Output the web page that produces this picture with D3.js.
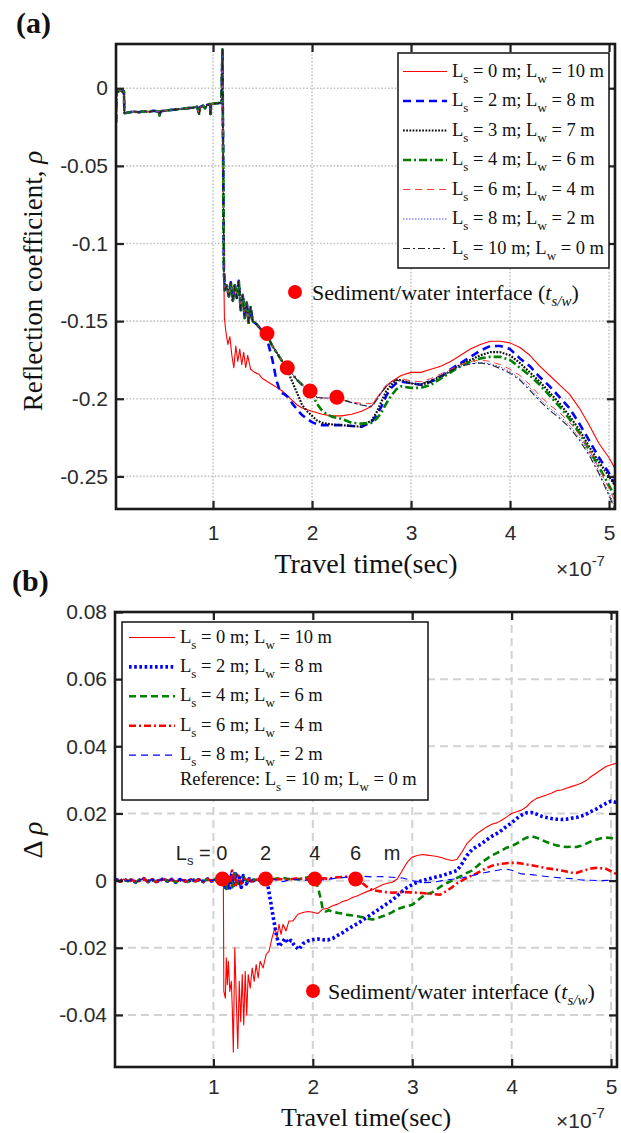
<!DOCTYPE html>
<html><head><meta charset="utf-8">
<script src="https://cdn.jsdelivr.net/npm/d3@7"></script>
<style>body{margin:0;background:#fff}svg{display:block}</style>
</head><body><svg id="c" width="621" height="1133"></svg>
<script>
// ---------------- DATA ----------------
const xTicks = [1, 2, 3, 4, 5];
const xTickLabels = ["1", "2", "3", "4", "5"];
const yTicksA = [0, -0.05, -0.1, -0.15, -0.2, -0.25];
const yTickLabelsA = ["0", "-0.05", "-0.1", "-0.15", "-0.2", "-0.25"];
const yTicksB = [0.08, 0.06, 0.04, 0.02, 0, -0.02, -0.04];
const yTickLabelsB = ["0.08", "0.06", "0.04", "0.02", "0", "-0.02", "-0.04"];
const xDomainA = [0.02, 5.06], yDomainA = [-0.271, 0.0285];
const xDomainB = [0.01, 5.06], yDomainB = [-0.0555, 0.08];

// legend texts [Ls, Lw]
const legendA = [[0, 10], [2, 8], [3, 7], [4, 6], [6, 4], [8, 2], [10, 0]];
const legendB = [[0, 10], [2, 8], [4, 6], [6, 4], [8, 2]];
const referenceB = [10, 0];

// (a) reflection coefficient: shared early part (t in 1e-7 s)
const rhoEarly = [[0.02,-0.022],[0.024,-0.001],[0.03,-0.0025],[0.05,-0.002],[0.07,-0.0015],[0.09,-0.0025],[0.10,-0.002],[0.105,-0.016],[0.13,-0.0158],[0.2,-0.015],[0.25,-0.0155],[0.3,-0.0148],[0.35,-0.0152],[0.4,-0.0145],[0.45,-0.015],[0.46,-0.0175],[0.47,-0.0148],[0.55,-0.0142],[0.6,-0.0138],[0.65,-0.0135],[0.7,-0.0132],[0.75,-0.0128],[0.8,-0.0125],[0.84,-0.012],[0.86,-0.0165],[0.87,-0.012],[0.9,-0.0112],[0.92,-0.013],[0.94,-0.0108],[0.97,-0.0102],[0.975,-0.0165],[0.98,-0.0102],[1.02,-0.0098],[1.06,-0.0095],[1.085,-0.0095],[1.095,0.025]];
// sediment-filled response (Ls = 10 m), shared by others until their interface
const rhoSediment = [[1.11,-0.118],[1.12,-0.130],[1.14,-0.127],[1.16,-0.134],[1.18,-0.125],[1.20,-0.137],[1.22,-0.127],[1.24,-0.135],[1.26,-0.124],[1.28,-0.143],[1.30,-0.133],[1.32,-0.148],[1.34,-0.138],[1.36,-0.151],[1.38,-0.141],[1.40,-0.150],[1.44,-0.152],[1.48,-0.155],[1.52,-0.157],[1.56,-0.161],[1.60,-0.166],[1.65,-0.171],[1.70,-0.176],[1.75,-0.180],[1.80,-0.184],[1.85,-0.188],[1.90,-0.191],[1.95,-0.194],[2.00,-0.197],[2.05,-0.199],[2.10,-0.1995],[2.20,-0.1995],[2.30,-0.2005],[2.40,-0.2025],[2.50,-0.204],[2.58,-0.205],[2.62,-0.204],[2.66,-0.200],[2.70,-0.196],[2.75,-0.192],[2.80,-0.1895],[2.85,-0.188],[2.90,-0.1885],[3.00,-0.190],[3.10,-0.1905],[3.20,-0.188],[3.30,-0.185],[3.40,-0.182],[3.50,-0.179],[3.60,-0.1775],[3.70,-0.177],[3.80,-0.178],[3.90,-0.1805],[4.00,-0.1835],[4.10,-0.188],[4.20,-0.1945],[4.30,-0.2015],[4.40,-0.2075],[4.50,-0.2125],[4.60,-0.2185],[4.70,-0.2265],[4.80,-0.2365],[4.90,-0.2485],[5.00,-0.2625],[5.06,-0.271]];
// time at which each case leaves the sediment curve
const splitA = [1.105, 1.55, 1.76, 2.01, 2.26, 3.65, 99];
const rhoTail0 = [[1.11,-0.125],[1.115,-0.148],[1.13,-0.157],[1.15,-0.165],[1.17,-0.160],[1.19,-0.172],[1.21,-0.180],[1.23,-0.166],[1.25,-0.176],[1.27,-0.168],[1.29,-0.178],[1.31,-0.170],[1.33,-0.180],[1.35,-0.172],[1.38,-0.181],[1.42,-0.183],[1.46,-0.184],[1.50,-0.187],[1.55,-0.189],[1.60,-0.191],[1.65,-0.193],[1.70,-0.195],[1.75,-0.198],[1.80,-0.201],[1.85,-0.204],[1.90,-0.206],[2.00,-0.208],[2.10,-0.210],[2.20,-0.211],[2.30,-0.211],[2.40,-0.210],[2.50,-0.208],[2.60,-0.205],[2.65,-0.200],[2.70,-0.196],[2.75,-0.192],[2.80,-0.189],[2.90,-0.185],[3.00,-0.183],[3.10,-0.183],[3.20,-0.181],[3.30,-0.179],[3.40,-0.176],[3.50,-0.172],[3.60,-0.168],[3.70,-0.165],[3.80,-0.163],[3.90,-0.163],[4.00,-0.164],[4.10,-0.167],[4.20,-0.172],[4.30,-0.179],[4.40,-0.185],[4.50,-0.191],[4.60,-0.197],[4.70,-0.206],[4.80,-0.217],[4.90,-0.229],[5.00,-0.238],[5.06,-0.245]];
const rhoTail2 = [[1.56,-0.165],[1.60,-0.175],[1.64,-0.188],[1.68,-0.196],[1.72,-0.197],[1.76,-0.199],[1.80,-0.203],[1.85,-0.207],[1.90,-0.2105],[1.95,-0.213],[2.00,-0.215],[2.05,-0.2165],[2.10,-0.217],[2.20,-0.217],[2.30,-0.217],[2.40,-0.2175],[2.50,-0.218],[2.60,-0.215],[2.65,-0.211],[2.70,-0.205],[2.75,-0.198],[2.80,-0.193],[2.85,-0.190],[2.90,-0.189],[3.00,-0.190],[3.10,-0.191],[3.20,-0.189],[3.30,-0.186],[3.40,-0.181],[3.50,-0.177],[3.60,-0.173],[3.70,-0.169],[3.80,-0.166],[3.90,-0.166],[4.00,-0.168],[4.10,-0.174],[4.20,-0.179],[4.30,-0.186],[4.40,-0.192],[4.50,-0.199],[4.60,-0.206],[4.70,-0.216],[4.80,-0.227],[4.90,-0.238],[5.00,-0.248],[5.06,-0.255]];
const rhoTail3 = [[1.78,-0.186],[1.82,-0.192],[1.86,-0.198],[1.90,-0.204],[1.95,-0.208],[2.00,-0.211],[2.05,-0.214],[2.10,-0.2155],[2.20,-0.2165],[2.30,-0.217],[2.40,-0.2175],[2.50,-0.218],[2.60,-0.214],[2.65,-0.209],[2.70,-0.202],[2.75,-0.195],[2.80,-0.191],[2.85,-0.188],[2.90,-0.188],[3.00,-0.190],[3.10,-0.191],[3.20,-0.189],[3.30,-0.186],[3.40,-0.182],[3.50,-0.178],[3.60,-0.175],[3.70,-0.172],[3.80,-0.170],[3.90,-0.170],[4.00,-0.172],[4.10,-0.177],[4.20,-0.183],[4.30,-0.189],[4.40,-0.196],[4.50,-0.203],[4.60,-0.211],[4.70,-0.220],[4.80,-0.231],[4.90,-0.241],[5.00,-0.250],[5.06,-0.256]];
const rhoTail4 = [[2.04,-0.202],[2.07,-0.205],[2.10,-0.2075],[2.15,-0.210],[2.20,-0.2115],[2.30,-0.213],[2.40,-0.2155],[2.50,-0.216],[2.60,-0.2155],[2.65,-0.213],[2.70,-0.209],[2.75,-0.203],[2.80,-0.198],[2.85,-0.194],[2.90,-0.192],[3.00,-0.193],[3.10,-0.193],[3.20,-0.191],[3.30,-0.187],[3.40,-0.183],[3.50,-0.179],[3.60,-0.176],[3.70,-0.174],[3.80,-0.173],[3.90,-0.173],[4.00,-0.175],[4.10,-0.180],[4.20,-0.185],[4.30,-0.191],[4.40,-0.198],[4.50,-0.205],[4.60,-0.213],[4.70,-0.222],[4.80,-0.233],[4.90,-0.244],[5.00,-0.256],[5.06,-0.263]];
const rhoTail6 = [[2.30,-0.2005],[2.40,-0.202],[2.50,-0.203],[2.60,-0.203],[2.65,-0.200],[2.70,-0.195],[2.75,-0.191],[2.80,-0.189],[2.85,-0.187],[2.90,-0.187],[3.00,-0.1885],[3.10,-0.189],[3.20,-0.187],[3.30,-0.184],[3.40,-0.181],[3.50,-0.178],[3.60,-0.176],[3.70,-0.175],[3.80,-0.176],[3.90,-0.178],[4.00,-0.181],[4.10,-0.185],[4.20,-0.191],[4.30,-0.198],[4.40,-0.204],[4.50,-0.209],[4.60,-0.215],[4.70,-0.223],[4.80,-0.233],[4.90,-0.245],[5.00,-0.258],[5.06,-0.266]];
const rhoTail8 = [[3.70,-0.1765],[3.80,-0.1775],[3.90,-0.1795],[4.00,-0.1825],[4.10,-0.187],[4.20,-0.193],[4.30,-0.200],[4.40,-0.206],[4.50,-0.211],[4.60,-0.217],[4.70,-0.225],[4.80,-0.235],[4.90,-0.247],[5.00,-0.261],[5.06,-0.269]];
const rhoTail10 = [];
const interfaceA = [[1.545,-0.158],[1.75,-0.180],[1.98,-0.195],[2.25,-0.199]];

// (b) difference from reference (Ls = 10 m)
const dBase = [[0.02,0.0004],[0.06,-0.0003],[0.1,0.0005],[0.14,-0.0002],[0.18,0.0003],[0.22,-0.0005],[0.26,0.0002],[0.3,0.0006],[0.34,-0.0003],[0.38,0.0004],[0.42,-0.0004],[0.46,0.0002],[0.5,0.0005],[0.54,-0.0002],[0.58,0.0004],[0.62,-0.0005],[0.66,0.0003],[0.7,0.0001],[0.74,-0.0004],[0.78,0.0005],[0.82,-0.0002],[0.86,0.0004],[0.9,-0.0003],[0.94,0.0005],[0.98,-0.0001],[1.02,0.0004],[1.06,-0.0002],[1.09,0.0003]];
const dTail0 = [[1.10,0.0],[1.105,-0.033],[1.12,-0.035],[1.13,-0.023],[1.14,-0.031],[1.15,-0.024],[1.165,-0.033],[1.18,-0.030],[1.19,-0.038],[1.20,-0.051],[1.215,-0.020],[1.23,-0.035],[1.245,-0.050],[1.26,-0.030],[1.275,-0.042],[1.29,-0.028],[1.305,-0.043],[1.32,-0.027],[1.335,-0.040],[1.35,-0.028],[1.37,-0.032],[1.39,-0.026],[1.41,-0.030],[1.43,-0.025],[1.45,-0.029],[1.47,-0.024],[1.50,-0.026],[1.53,-0.022],[1.56,-0.021],[1.59,-0.017],[1.62,-0.014],[1.64,-0.017],[1.66,-0.013],[1.68,-0.016],[1.70,-0.013],[1.73,-0.015],[1.76,-0.012],[1.80,-0.012],[1.85,-0.010],[1.90,-0.0095],[1.95,-0.0092],[2.00,-0.0094],[2.05,-0.0098],[2.10,-0.0085],[2.15,-0.0082],[2.20,-0.0075],[2.25,-0.0070],[2.30,-0.0062],[2.35,-0.0058],[2.40,-0.0050],[2.45,-0.0045],[2.50,-0.0038],[2.55,-0.0032],[2.60,-0.0027],[2.65,-0.0020],[2.70,-0.0012],[2.75,-0.0008],[2.80,-0.0005],[2.85,0.0005],[2.90,0.0030],[2.95,0.0055],[3.00,0.0070],[3.05,0.0075],[3.10,0.0078],[3.15,0.0076],[3.20,0.0074],[3.25,0.0072],[3.30,0.0068],[3.35,0.0063],[3.40,0.0060],[3.45,0.0063],[3.50,0.0085],[3.55,0.0110],[3.60,0.0125],[3.65,0.0140],[3.70,0.0150],[3.75,0.0160],[3.80,0.0168],[3.85,0.0172],[3.90,0.0180],[3.95,0.0190],[4.00,0.0200],[4.05,0.0205],[4.10,0.0210],[4.15,0.0220],[4.20,0.0235],[4.25,0.0245],[4.30,0.0250],[4.35,0.0255],[4.40,0.0260],[4.45,0.0268],[4.50,0.0270],[4.55,0.0275],[4.60,0.0280],[4.65,0.0285],[4.70,0.0290],[4.75,0.0298],[4.80,0.0310],[4.85,0.0320],[4.90,0.0330],[4.95,0.0340],[5.00,0.0345],[5.06,0.0350]];
const dTail2 = [[1.10,0.0],[1.12,-0.002],[1.14,0.001],[1.16,-0.003],[1.18,0.002],[1.20,-0.002],[1.22,0.0025],[1.24,-0.001],[1.26,0.001],[1.28,-0.002],[1.30,0.0015],[1.33,-0.001],[1.36,0.0005],[1.40,0.0],[1.45,0.0003],[1.50,-0.0002],[1.54,0.0],[1.56,-0.0036],[1.58,-0.007],[1.60,-0.0106],[1.63,-0.0156],[1.66,-0.0196],[1.69,-0.0185],[1.72,-0.0172],[1.75,-0.0185],[1.78,-0.0178],[1.82,-0.0195],[1.86,-0.0205],[1.90,-0.0188],[1.95,-0.018],[2.00,-0.0176],[2.05,-0.0174],[2.10,-0.0176],[2.15,-0.0177],[2.20,-0.0172],[2.25,-0.0163],[2.30,-0.0155],[2.35,-0.0145],[2.40,-0.0136],[2.45,-0.0128],[2.50,-0.0118],[2.55,-0.0108],[2.60,-0.0098],[2.65,-0.0088],[2.70,-0.0078],[2.75,-0.0068],[2.80,-0.0058],[2.85,-0.0045],[2.90,-0.0032],[2.95,-0.002],[3.00,-0.0012],[3.05,-0.0005],[3.10,0.0],[3.20,0.0008],[3.30,0.0015],[3.40,0.0025],[3.45,0.003],[3.50,0.005],[3.55,0.0075],[3.60,0.0092],[3.65,0.0102],[3.70,0.011],[3.75,0.0122],[3.80,0.0132],[3.85,0.014],[3.90,0.015],[3.95,0.0162],[4.00,0.0172],[4.05,0.0185],[4.10,0.0195],[4.15,0.0202],[4.20,0.0203],[4.25,0.0198],[4.30,0.0192],[4.35,0.0188],[4.40,0.0185],[4.45,0.0183],[4.50,0.0182],[4.55,0.0183],[4.60,0.0186],[4.65,0.0188],[4.70,0.0192],[4.75,0.0198],[4.80,0.0206],[4.85,0.0213],[4.90,0.0222],[4.95,0.023],[5.00,0.0237],[5.06,0.0232]];
const dTail4 = [[1.10,0.0],[1.13,-0.0025],[1.16,0.001],[1.19,-0.002],[1.22,0.002],[1.25,-0.001],[1.30,0.001],[1.35,-0.0005],[1.40,0.0003],[1.50,0.0],[1.60,0.0005],[1.70,0.0008],[1.80,0.0003],[1.90,0.0006],[1.95,0.001],[2.00,0.0005],[2.03,0.0],[2.06,-0.003],[2.08,-0.0055],[2.10,-0.0085],[2.13,-0.0092],[2.16,-0.0088],[2.20,-0.0093],[2.25,-0.0096],[2.30,-0.0098],[2.35,-0.0102],[2.40,-0.0104],[2.45,-0.0106],[2.50,-0.0109],[2.55,-0.0113],[2.60,-0.0116],[2.65,-0.0112],[2.70,-0.0106],[2.75,-0.0101],[2.80,-0.0094],[2.85,-0.0085],[2.90,-0.008],[2.95,-0.0076],[3.00,-0.0072],[3.05,-0.006],[3.10,-0.0048],[3.15,-0.004],[3.20,-0.0035],[3.25,-0.0025],[3.30,-0.0015],[3.35,-0.0007],[3.40,0.0],[3.45,0.0008],[3.50,0.0015],[3.55,0.0023],[3.60,0.003],[3.65,0.0042],[3.70,0.0055],[3.75,0.0065],[3.80,0.0075],[3.85,0.0082],[3.90,0.009],[3.95,0.0098],[4.00,0.0103],[4.05,0.011],[4.10,0.012],[4.15,0.0128],[4.20,0.0132],[4.25,0.0128],[4.30,0.0122],[4.35,0.0115],[4.40,0.011],[4.45,0.0105],[4.50,0.0102],[4.55,0.01],[4.60,0.0101],[4.65,0.01],[4.70,0.0104],[4.75,0.011],[4.80,0.0117],[4.85,0.0122],[4.90,0.0126],[4.95,0.0128],[5.00,0.0127],[5.06,0.0122]];
const dTail6 = [[1.10,0.0],[1.13,0.0025],[1.16,-0.0015],[1.19,0.003],[1.22,-0.002],[1.25,0.0015],[1.28,-0.001],[1.32,0.001],[1.38,-0.0003],[1.45,0.0004],[1.55,0.0],[1.65,0.0005],[1.75,0.0003],[1.85,0.0007],[1.95,0.0004],[2.05,0.0008],[2.15,0.0006],[2.25,0.001],[2.35,0.0012],[2.43,0.0012],[2.47,0.0005],[2.50,-0.0008],[2.55,-0.002],[2.60,-0.0028],[2.70,-0.0033],[2.80,-0.0036],[2.90,-0.0034],[3.00,-0.0035],[3.10,-0.0037],[3.20,-0.004],[3.28,-0.0042],[3.35,-0.003],[3.40,-0.002],[3.45,-0.0008],[3.50,0.0],[3.55,0.0008],[3.60,0.0015],[3.65,0.0022],[3.70,0.003],[3.75,0.0038],[3.80,0.0044],[3.85,0.0048],[3.90,0.005],[3.95,0.0052],[4.00,0.0053],[4.05,0.0053],[4.10,0.0051],[4.15,0.0048],[4.20,0.0046],[4.25,0.0043],[4.30,0.004],[4.35,0.0037],[4.40,0.0035],[4.45,0.0033],[4.50,0.003],[4.55,0.0027],[4.60,0.0024],[4.65,0.0023],[4.70,0.0028],[4.75,0.0032],[4.80,0.0036],[4.85,0.0038],[4.90,0.0037],[4.95,0.0035],[5.00,0.0028],[5.06,0.0018]];
const dTail8 = [[1.10,0.0],[1.13,0.002],[1.15,-0.002],[1.18,0.003],[1.21,-0.001],[1.24,0.002],[1.27,-0.002],[1.30,0.001],[1.35,-0.0005],[1.40,0.0004],[1.50,-0.0002],[1.60,0.0004],[1.70,-0.0003],[1.80,0.0005],[1.90,0.0],[2.00,0.0004],[2.10,0.0002],[2.20,0.0006],[2.30,0.0009],[2.40,0.0012],[2.50,0.0013],[2.60,0.0011],[2.70,0.0012],[2.80,0.001],[2.90,0.0008],[3.00,0.0],[3.10,-0.0006],[3.20,-0.0005],[3.30,0.0],[3.40,0.0004],[3.50,0.0008],[3.60,0.0015],[3.70,0.0022],[3.80,0.0028],[3.90,0.0033],[3.95,0.0034],[4.00,0.0031],[4.10,0.002],[4.20,0.0018],[4.30,0.0014],[4.40,0.0011],[4.50,0.0008],[4.60,0.0006],[4.70,0.0002],[4.80,0.0001],[4.90,0.0],[5.00,0.0001],[5.06,-0.0001]];
const interfaceB = [[1.09,0.0005],[1.525,0.0005],[2.02,0.0005],[2.43,0.0005]];
const interfaceLabelsB = ["0", "2", "4", "6"];

// ---------------- DRAW ----------------
const svg = d3.select('#c');
svg.append('rect').attr('width', 621).attr('height', 1133).attr('fill', '#fff');
const serif = "'Liberation Serif','Times New Roman',serif";
const sans = "'Liberation Sans',Arial,Helvetica,sans-serif";
const RED = '#ff0000', BLUE = '#0000ff', GREEN = '#008000', BLACK = '#111';

function panel(opt) {
  const x = d3.scaleLinear().domain(opt.xd).range([opt.l, opt.r]);
  const y = d3.scaleLinear().domain(opt.yd).range([opt.b, opt.t]);
  const g = svg.append('g');
  const grid = g.append('g').attr('stroke', opt.gridColor).attr('stroke-width', opt.gridW)
    .attr('stroke-dasharray', opt.gridDash).attr('fill', 'none');
  grid.selectAll('.gx').data(xTicks).join('line')
    .attr('x1', d => x(d)).attr('x2', d => x(d)).attr('y1', opt.t).attr('y2', opt.b);
  grid.selectAll('.gy').data(opt.yt).join('line')
    .attr('y1', d => y(d)).attr('y2', d => y(d)).attr('x1', opt.l).attr('x2', opt.r);
  const cid = 'clip' + opt.id;
  svg.append('clipPath').attr('id', cid).append('rect')
    .attr('x', opt.l).attr('y', opt.t).attr('width', opt.r - opt.l).attr('height', opt.b - opt.t);
  const plot = g.append('g').attr('clip-path', `url(#${cid})`);
  const style = sel => {
    sel.select('.domain').remove();
    sel.selectAll('.tick line').attr('stroke', '#222').attr('stroke-width', 2.2);
    sel.selectAll('.tick text').attr('font-family', sans).attr('font-size', 21).attr('fill', '#2b2b2b');
  };
  g.append('g').attr('transform', `translate(0,${opt.b})`)
    .call(d3.axisBottom(x).tickValues(xTicks).tickSizeInner(-8).tickSizeOuter(0).tickPadding(opt.xpad)
      .tickFormat((d, i) => xTickLabels[i])).call(style);
  g.append('g').attr('transform', `translate(0,${opt.t})`)
    .call(d3.axisTop(x).tickValues(xTicks).tickSizeInner(-8).tickSizeOuter(0).tickFormat('')).call(style);
  g.append('g').attr('transform', `translate(${opt.l},0)`)
    .call(d3.axisLeft(y).tickValues(opt.yt).tickSizeInner(-8).tickSizeOuter(0).tickPadding(8)
      .tickFormat((d, i) => opt.ytl[i])).call(style);
  g.append('g').attr('transform', `translate(${opt.r},0)`)
    .call(d3.axisRight(y).tickValues(opt.yt).tickSizeInner(-8).tickSizeOuter(0).tickFormat('')).call(style);
  return { x, y, g, plot };
}

function lineTo(plot, x, y, pts, s) {
  plot.append('path').datum(pts)
    .attr('d', d3.line().x(d => x(d[0])).y(d => y(d[1])))
    .attr('fill', 'none').attr('stroke', s.c).attr('stroke-width', s.w)
    .attr('stroke-dasharray', s.dash || null).attr('stroke-linejoin', 'round');
}

function lsText(sel, x, y, ls, lw, size, prefix) {
  const t = sel.append('text').attr('x', x).attr('y', y).attr('font-family', serif)
    .attr('font-size', size).attr('fill', '#111');
  const sub = Math.round(size * 0.68), sh = size * 0.33;
  if (prefix) t.append('tspan').text(prefix);
  t.append('tspan').text('L');
  t.append('tspan').attr('dy', sh).attr('font-size', sub).text('s');
  t.append('tspan').attr('dy', -sh).text(` = ${ls} m; L`);
  t.append('tspan').attr('dy', sh).attr('font-size', sub).text('w');
  t.append('tspan').attr('dy', -sh).text(` = ${lw} m`);
}

function interfaceLabel(x, y, size) {
  const t = svg.append('text').attr('x', x).attr('y', y).attr('font-family', serif)
    .attr('font-size', size).attr('fill', '#111');
  t.append('tspan').text('Sediment/water interface (');
  t.append('tspan').attr('font-style', 'italic').text('t');
  t.append('tspan').attr('font-style', 'italic').attr('font-size', size * 0.68).attr('dy', size * 0.25).text('s/w');
  t.append('tspan').attr('dy', -size * 0.25).text(')');
}

// ---------- Panel (a) ----------
const A = panel({ id: 'a', xd: xDomainA, yd: yDomainA, l: 116, r: 615, t: 44, b: 509, xpad: 16,
  yt: yTicksA, ytl: yTickLabelsA, gridColor: '#c4c4c4', gridW: 1.6, gridDash: '1.6,1.8' });

const stylesA = [
  { c: RED, w: 1.1 },
  { c: BLUE, w: 2.6, dash: '8,5' },
  { c: BLACK, w: 2.2, dash: '1.8,1.4' },
  { c: GREEN, w: 2.6, dash: '8,3,2,3' },
  { c: '#ff3c3c', w: 1, dash: '7,5' },
  { c: '#4a4aff', w: 1, dash: '1.5,1.5' },
  { c: '#222', w: 1.1, dash: '7,3,2,3' }
];
const tailsA = [rhoTail0, rhoTail2, rhoTail3, rhoTail4, rhoTail6, rhoTail8, rhoTail10];
tailsA.forEach((tail, i) => {
  const pts = rhoEarly.concat(rhoSediment.filter(p => p[0] < splitA[i]), tail);
  lineTo(A.plot, A.x, A.y, pts, stylesA[i]);
});
A.plot.selectAll('.dotA').data(interfaceA).join('circle')
  .attr('cx', d => A.x(d[0])).attr('cy', d => A.y(d[1])).attr('r', 7.5).attr('fill', RED);

A.g.append('rect').attr('x', 116).attr('y', 44).attr('width', 499).attr('height', 465)
  .attr('fill', 'none').attr('stroke', '#1a1a1a').attr('stroke-width', 2.6);

const legA = svg.append('g');
legA.append('rect').attr('x', 398).attr('y', 53).attr('width', 211).attr('height', 215)
  .attr('fill', '#fff').attr('stroke', '#111').attr('stroke-width', 1.5);
legendA.forEach((d, i) => {
  const yy = 71.5 + i * 29.5;
  const s = stylesA[i];
  legA.append('line').attr('x1', 403).attr('x2', 447).attr('y1', yy).attr('y2', yy)
    .attr('stroke', s.c).attr('stroke-width', s.w).attr('stroke-dasharray', s.dash || null);
  lsText(legA, 452, yy + 5, d[0], d[1], 18.5);
});
svg.append('circle').attr('cx', 295).attr('cy', 292).attr('r', 7).attr('fill', RED);
interfaceLabel(312, 300, 22);

svg.append('text').attr('x', 16).attr('y', 33).attr('font-family', serif).attr('font-weight', 'bold')
  .attr('font-size', 30).attr('fill', '#111').text('(a)');
const ylabA = svg.append('text').attr('transform', 'translate(42,281) rotate(-90)')
  .attr('text-anchor', 'middle').attr('font-family', serif).attr('font-size', 27).attr('fill', '#111');
ylabA.append('tspan').text('Reflection coefficient, ');
ylabA.append('tspan').attr('font-style', 'italic').text('ρ');
svg.append('text').attr('x', 366).attr('y', 573).attr('text-anchor', 'middle').attr('font-family', serif)
  .attr('font-size', 28).attr('fill', '#111').text('Travel time(sec)');

function sciLabel(x, y) {
  const t = svg.append('text').attr('x', x).attr('y', y).attr('font-family', sans)
    .attr('font-size', 21).attr('fill', '#2b2b2b');
  t.append('tspan').text('×10');
  t.append('tspan').attr('font-size', 15).attr('dy', -10).text('-7');
}
sciLabel(556, 576);

// ---------- Panel (b) ----------
const B = panel({ id: 'b', xd: xDomainB, yd: yDomainB, l: 115, r: 617, t: 612, b: 1067, xpad: 12,
  yt: yTicksB, ytl: yTickLabelsB, gridColor: '#d2d2d2', gridW: 2, gridDash: '8,5' });

const stylesB = [
  { c: RED, w: 1.1 },
  { c: BLUE, w: 3.6, dash: '2.6,2.6' },
  { c: GREEN, w: 2.6, dash: '7,4' },
  { c: RED, w: 2.6, dash: '7,3,2,3' },
  { c: BLUE, w: 1.1, dash: '7,5' }
];
const tailsB = [dTail0, dTail2, dTail4, dTail6, dTail8];
tailsB.forEach((tail, i) => {
  const pts = dBase.concat(tail);
  lineTo(B.plot, B.x, B.y, pts, stylesB[i]);
});
B.plot.selectAll('.dotB').data(interfaceB).join('circle')
  .attr('cx', d => B.x(d[0])).attr('cy', d => B.y(d[1])).attr('r', 7.5).attr('fill', RED);

B.g.append('rect').attr('x', 115).attr('y', 612).attr('width', 502).attr('height', 455)
  .attr('fill', 'none').attr('stroke', '#1a1a1a').attr('stroke-width', 2.6);

const ann = svg.append('g').attr('font-family', sans).attr('font-size', 20).attr('fill', '#222');
const annT = ann.append('text').attr('x', B.x(interfaceB[0][0]) + 5).attr('y', 860).attr('text-anchor', 'end');
annT.append('tspan').text('L');
annT.append('tspan').attr('font-size', 13).attr('dy', 5).text('s');
annT.append('tspan').attr('dy', -5).text(' = ' + interfaceLabelsB[0]);
ann.selectAll('.al').data(interfaceB.slice(1)).join('text')
  .attr('x', d => B.x(d[0])).attr('y', 860).attr('text-anchor', 'middle')
  .text((d, i) => interfaceLabelsB[i + 1]);
ann.append('text').attr('x', 392).attr('y', 860).attr('text-anchor', 'middle').text('m');

const legB = svg.append('g');
legB.append('rect').attr('x', 122).attr('y', 622).attr('width', 306).attr('height', 178)
  .attr('fill', '#fff').attr('stroke', '#111').attr('stroke-width', 1.5);
legendB.forEach((d, i) => {
  const yy = 637.5 + i * 29.4;
  const s = stylesB[i];
  legB.append('line').attr('x1', 129).attr('x2', 175).attr('y1', yy).attr('y2', yy)
    .attr('stroke', s.c).attr('stroke-width', s.w).attr('stroke-dasharray', s.dash || null);
  lsText(legB, 180, yy + 5, d[0], d[1], 18.5);
});
lsText(legB, 180, 785, referenceB[0], referenceB[1], 18.5, 'Reference: ');

svg.append('circle').attr('cx', 313).attr('cy', 991).attr('r', 7).attr('fill', RED);
interfaceLabel(328, 999, 22);

svg.append('text').attr('x', 12).attr('y', 591).attr('font-family', serif).attr('font-weight', 'bold')
  .attr('font-size', 30).attr('fill', '#111').text('(b)');
const ylabB = svg.append('text').attr('transform', 'translate(42,840) rotate(-90)')
  .attr('text-anchor', 'middle').attr('font-family', serif).attr('font-size', 28).attr('fill', '#111');
ylabB.append('tspan').text('Δ ');
ylabB.append('tspan').attr('font-style', 'italic').text('ρ');
svg.append('text').attr('x', 366).attr('y', 1126).attr('text-anchor', 'middle').attr('font-family', serif)
  .attr('font-size', 26).attr('fill', '#111').text('Travel time(sec)');
sciLabel(556, 1128);
</script></body></html>
